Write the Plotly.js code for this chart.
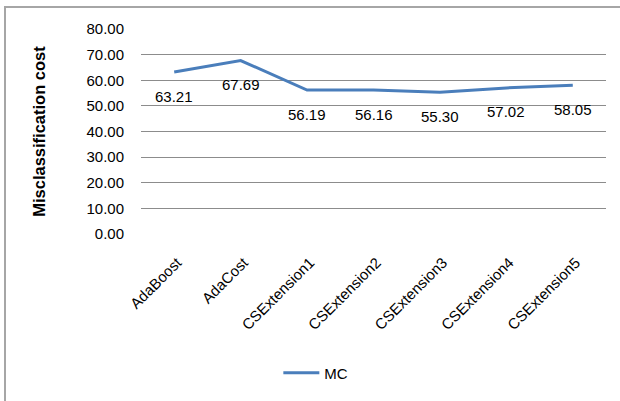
<!DOCTYPE html>
<html>
<head>
<meta charset="utf-8">
<script src="https://cdn.plot.ly/plotly-3.0.1.min.js"></script>
<style>
  html, body { margin: 0; padding: 0; background: #fff; }
  #wrap { position: relative; width: 620px; height: 401px; overflow: hidden; }
  #chart { position: absolute; left: 0; top: 0; width: 620px; height: 401px; }
  #frame { position: absolute; left: 4px; top: 6px; width: 640px; height: 420px;
           box-sizing: border-box; border: 2px solid #a6a6a6; pointer-events: none; }
</style>
</head>
<body>
<div id="wrap">
  <div id="chart"></div>
  <div id="frame"></div>
</div>
<script>
// Misclassification cost per boosting method
const methods = ["AdaBoost", "AdaCost", "CSExtension1", "CSExtension2", "CSExtension3", "CSExtension4", "CSExtension5"];
const mcValues = [63.21, 67.69, 56.19, 56.16, 55.30, 57.02, 58.05];
const yTicks = [0, 10, 20, 30, 40, 50, 60, 70, 80];

const FONT = "Liberation Sans, Arial, sans-serif";

const trace = {
  type: "scatter",
  mode: "lines",
  name: "MC",
  x: methods,
  y: mcValues,
  line: { color: "#4a7ebb", width: 3 },
  cliponaxis: false,
  hoverinfo: "x+y"
};

// value labels sit a little below each point
const valueLabels = methods.map((m, i) => ({
  x: m,
  y: mcValues[i],
  xref: "x",
  yref: "y",
  text: mcValues[i].toFixed(2),
  showarrow: false,
  yanchor: "middle",
  xanchor: "center",
  yshift: -24,
  font: { family: FONT, size: 15, color: "#000" }
}));

const layout = {
  width: 620,
  height: 401,
  margin: { l: 141, r: 14, t: 29, b: 165 },
  paper_bgcolor: "#fff",
  plot_bgcolor: "#fff",
  font: { family: FONT, size: 15, color: "#000" },
  showlegend: true,
  legend: {
    orientation: "h",
    x: 0.376, xanchor: "center",
    y: -0.678, yanchor: "middle",
    font: { family: FONT, size: 15, color: "#000" },
    itemwidth: 36
  },
  annotations: valueLabels,
  xaxis: {
    type: "category",
    range: [-0.5, methods.length - 0.5],
    tickangle: -45,
    showgrid: false,
    showline: false,
    zeroline: false,
    ticks: "",
    ticklabelstandoff: 16,
    ticklabelshift: 3,
    tickfont: { family: FONT, size: 15, color: "#000" },
    fixedrange: true
  },
  yaxis: {
    range: [0, 80],
    tickvals: yTicks,
    ticktext: yTicks.map(v => v.toFixed(2)),
    showgrid: true,
    gridcolor: "#8c8c8c",
    gridwidth: 1,
    zeroline: false,
    showline: false,
    ticks: "",
    ticklabelstandoff: 16,
    tickfont: { family: FONT, size: 15, color: "#000" },
    title: {
      text: "<b>Misclassification cost</b>",
      font: { family: FONT, size: 16.5, color: "#000" },
      standoff: 36
    },
    fixedrange: true
  }
};

Plotly.newPlot("chart", [trace], layout, { displayModeBar: false, staticPlot: true });
</script>
</body>
</html>
